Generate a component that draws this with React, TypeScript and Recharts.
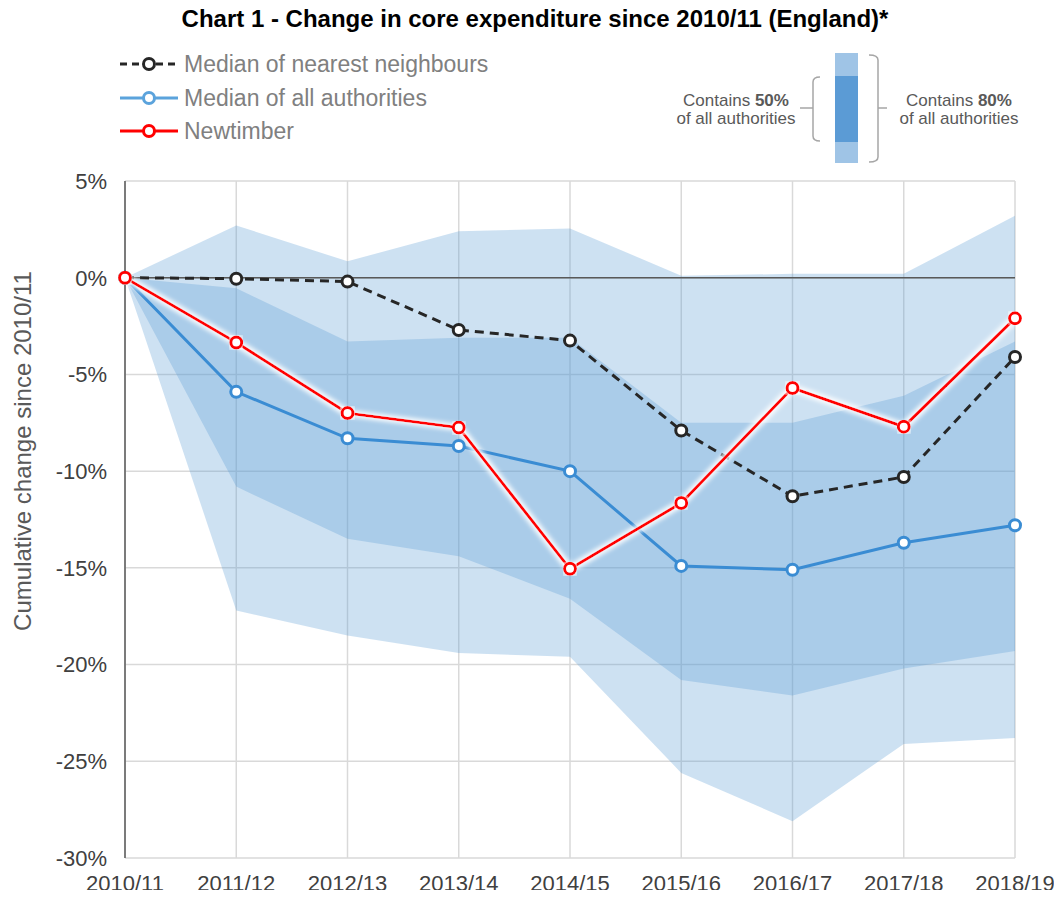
import React from "react";
import { ComposedChart, Area, Line, XAxis, YAxis, CartesianGrid, ReferenceLine } from "recharts";

const FONT = "'Liberation Sans', Arial, sans-serif";

const categories = ["2010/11", "2011/12", "2012/13", "2013/14", "2014/15", "2015/16", "2016/17", "2017/18", "2018/19"];

// medians / local authority (% change since 2010/11)
const nearestNeighbours = [0, -0.05, -0.2, -2.7, -3.25, -7.9, -11.3, -10.3, -4.1];
const allAuthorities = [0, -5.9, -8.3, -8.7, -10.0, -14.9, -15.1, -13.7, -12.8];
const newtimber = [0, -3.35, -7.0, -7.75, -15.05, -11.65, -5.7, -7.7, -2.1];

// 80% range (10th - 90th percentile)
const band80Low = [0, -17.2, -18.5, -19.4, -19.6, -25.6, -28.1, -24.1, -23.8];
const band80High = [0, 2.7, 0.85, 2.4, 2.55, 0.1, 0.2, 0.2, 3.2];
// 50% range (25th - 75th percentile)
const band50Low = [0, -10.8, -13.5, -14.4, -16.6, -20.8, -21.6, -20.2, -19.3];
const band50High = [0, -0.55, -3.3, -3.1, -3.1, -7.5, -7.5, -6.1, -3.3];

const yTicks = [5, 0, -5, -10, -15, -20, -25, -30];

const data = categories.map((name, i) => ({
  name,
  outer: [band80Low[i], band80High[i]],
  inner: [band50Low[i], band50High[i]],
  nearest: nearestNeighbours[i],
  all: allAuthorities[i],
  newtimber: newtimber[i],
}));

const BLACK = "#262626";
const BLUE = "#3a8cd3";
const RED = "#ff0000";

const LegendRow = ({ y, color, dashed, label }: { y: number; color: string; dashed?: boolean; label: string }) => (
  <g>
    <line x1={120} x2={178} y1={y} y2={y} stroke={color} strokeWidth={3} strokeDasharray={dashed ? "7 5" : undefined} />
    <circle cx={149} cy={y} r={5.5} fill="#fff" stroke={color} strokeWidth={3} />
    <text x={184} y={y} dominantBaseline="central" fontSize={23} fill="#808080" fontFamily={FONT}>
      {label}
    </text>
  </g>
);

const Overlay = () => (
  <svg width={1062} height={898} style={{ position: "absolute", left: 0, top: 0, pointerEvents: "none" }}>
    <defs>
      <filter id="glow" x="-10%" y="-10%" width="120%" height="120%">
        <feMorphology in="SourceAlpha" operator="dilate" radius="2" result="d" />
        <feGaussianBlur in="d" stdDeviation="2" result="b" />
        <feFlood floodColor="#ffffff" floodOpacity="0.9" />
        <feComposite in2="b" operator="in" result="g" />
        <feMerge>
          <feMergeNode in="g" />
          <feMergeNode in="SourceGraphic" />
        </feMerge>
      </filter>
    </defs>

    <text x={535} y={27} textAnchor="middle" fontSize={24} fontWeight="bold" fill="#000" fontFamily={FONT}>
      Chart 1 - Change in core expenditure since 2010/11 (England)*
    </text>

    <LegendRow y={64} color={BLACK} dashed label="Median of nearest neighbours" />
    <LegendRow y={98} color="#5ba3dc" label="Median of all authorities" />
    <LegendRow y={131} color={RED} label="Newtimber" />

    {/* range key */}
    <rect x={835} y={53} width={23} height={23} fill="#9fc4e6" />
    <rect x={835} y={76} width={23} height={66} fill="#5b9bd5" />
    <rect x={835} y={142} width={23} height={21} fill="#9fc4e6" />
    <path d="M820,77 Q813,77 813,82 L813,136 Q813,141 820,141 M813,108 L800,108" fill="none" stroke="#a6a6a6" strokeWidth={1.5} />
    <path d="M869,55 Q878,55 878,60 L878,157 Q878,162 869,162 M878,108 L887,108" fill="none" stroke="#a6a6a6" strokeWidth={1.5} />
    <text x={736} y={100} textAnchor="middle" dominantBaseline="central" fontSize={17} fill="#595959" fontFamily={FONT}>
      Contains <tspan fontWeight="bold">50%</tspan>
    </text>
    <text x={736} y={118} textAnchor="middle" dominantBaseline="central" fontSize={17} fill="#595959" fontFamily={FONT}>
      of all authorities
    </text>
    <text x={959} y={100} textAnchor="middle" dominantBaseline="central" fontSize={17} fill="#595959" fontFamily={FONT}>
      Contains <tspan fontWeight="bold">80%</tspan>
    </text>
    <text x={959} y={118} textAnchor="middle" dominantBaseline="central" fontSize={17} fill="#595959" fontFamily={FONT}>
      of all authorities
    </text>

    <text x={31} y={451} transform="rotate(-90, 31, 451)" textAnchor="middle" fontSize={24} fill="#595959" fontFamily={FONT}>
      Cumulative change since 2010/11
    </text>
  </svg>
);

export default function App() {
  return (
    <div style={{ position: "relative", width: 1062, height: 898, margin: -8, background: "#fff", fontFamily: FONT }}>
      <ComposedChart width={1062} height={898} data={data} margin={{ top: 181, right: 47, bottom: 0, left: 0 }}>
        <CartesianGrid stroke="#d9d9d9" strokeWidth={1.5} />
        <XAxis
          dataKey="name"
          interval={0}
          axisLine={false}
          tickLine={false}
          tickSize={0}
          tickMargin={17}
          height={40}
          tick={{ fontSize: 22, fill: "#404040", fontFamily: FONT }}
        />
        <YAxis
          type="number"
          domain={[-30, 5]}
          ticks={yTicks}
          width={125}
          axisLine={{ stroke: "#595959", strokeWidth: 1.5 }}
          tickLine={false}
          tickSize={0}
          tickMargin={18}
          tickFormatter={(v: number) => `${v}%`}
          tick={{ fontSize: 22, fill: "#404040", fontFamily: FONT }}
        />
        <Area dataKey="outer" type="linear" stroke="none" fill="#5b9bd5" fillOpacity={0.3} dot={false} activeDot={false} isAnimationActive={false} />
        <Area dataKey="inner" type="linear" stroke="none" fill="#5b9bd5" fillOpacity={0.3} dot={false} activeDot={false} isAnimationActive={false} />
        <ReferenceLine y={0} stroke="#595959" strokeWidth={1.5} />
        <Line
          dataKey="all"
          type="linear"
          stroke={BLUE}
          strokeWidth={3}
          dot={{ r: 5.5, fill: "#fff", stroke: BLUE, strokeWidth: 3 }}
          activeDot={false}
          isAnimationActive={false}
        />
        <Line
          dataKey="nearest"
          type="linear"
          stroke={BLACK}
          strokeWidth={3}
          strokeDasharray="9 6"
          dot={{ r: 5.5, fill: "#fff", stroke: BLACK, strokeWidth: 3, strokeDasharray: "" }}
          activeDot={false}
          isAnimationActive={false}
        />
        <Line
          dataKey="newtimber"
          type="linear"
          stroke={RED}
          strokeWidth={3}
          style={{ filter: "url(#glow)" }}
          dot={{ r: 5.5, fill: "#fff", stroke: RED, strokeWidth: 3 }}
          activeDot={false}
          isAnimationActive={false}
        />
      </ComposedChart>
      <Overlay />
    </div>
  );
}
